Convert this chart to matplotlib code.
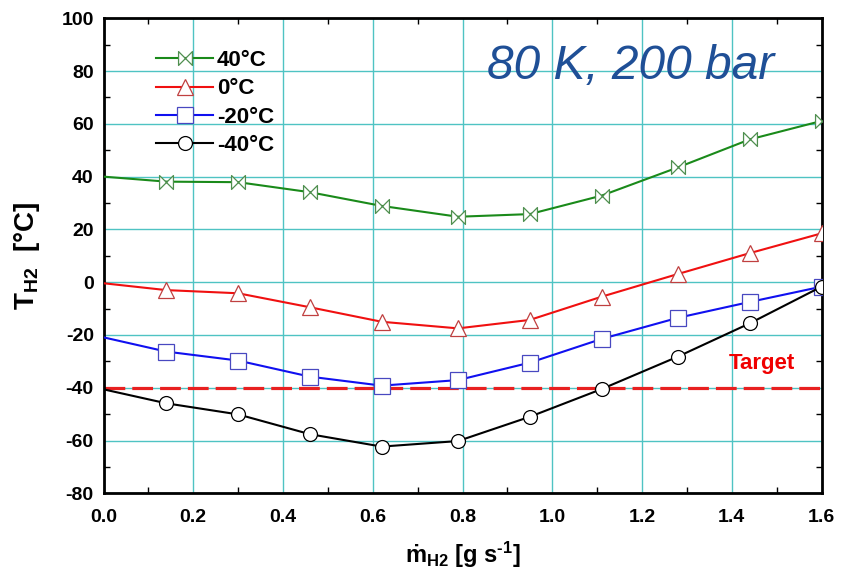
import matplotlib
matplotlib.use("Agg")
import matplotlib.pyplot as plt
from matplotlib.path import Path
from matplotlib.ticker import MultipleLocator

plt.rcParams['font.family'] = ['Liberation Sans', 'DejaVu Sans']
plt.rcParams['mathtext.fontset'] = 'custom'
plt.rcParams['mathtext.rm'] = 'Liberation Sans:bold'
plt.rcParams['mathtext.bf'] = 'Liberation Sans:bold'
plt.rcParams['mathtext.it'] = 'Liberation Sans:bold'
plt.rcParams['mathtext.default'] = 'bf'

# ---- data ----
flow = [0.0, 0.14, 0.30, 0.46, 0.62, 0.79, 0.95, 1.11, 1.28, 1.44, 1.60]
t_p40 = [40.0, 38.1, 37.9, 34.1, 28.9, 24.8, 25.8, 32.8, 43.5, 54.1, 61.1]
t_0 = [-0.4, -3.0, -4.2, -9.5, -15.0, -17.5, -14.3, -5.5, 3.1, 11.0, 18.5]
t_m20 = [-20.9, -26.3, -29.7, -35.8, -39.2, -37.1, -30.5, -21.5, -13.5, -7.5, -1.7]
t_m40 = [-40.6, -45.9, -50.1, -57.6, -62.3, -60.2, -51.0, -40.5, -28.2, -15.6, -1.7]
labels = ['40°C', '0°C', '-20°C', '-40°C']
target = -40
x_ticks = [0.0, 0.2, 0.4, 0.6, 0.8, 1.0, 1.2, 1.4, 1.6]
y_ticks = [-80, -60, -40, -20, 0, 20, 40, 60, 80, 100]

# bowtie marker
bowtie = Path([(-1, -1), (1, 1), (1, -1), (-1, 1), (-1, -1)],
              [Path.MOVETO, Path.LINETO, Path.LINETO, Path.LINETO, Path.CLOSEPOLY])

fig = plt.figure(figsize=(8.52, 5.75), dpi=100)
ax = fig.add_axes([103.5 / 852, 1 - 493.3 / 575, (821.5 - 103.5) / 852, (493.3 - 18.3) / 575])

ax.grid(True, which='major', color='#4FC3C3', linewidth=1.0)
ax.set_axisbelow(True)

series = [
    (t_p40, '#1A8A1A', bowtie, '#4F8F4F', 10),
    (t_0, '#F01010', '^', '#C04040', 11),
    (t_m20, '#1010F0', 's', '#4848C0', 11),
    (t_m40, '#000000', 'o', '#000000', 10),
]
for (vals, col, mk, mec, ms), lab in zip(series, labels):
    ax.plot(flow, vals, color=col, lw=1.5, marker=mk, markersize=ms,
            markerfacecolor='white', markeredgecolor=mec, markeredgewidth=0.9,
            markevery=list(range(1, len(flow))), label=lab, zorder=3)

ax.axhline(target, color='#E82020', lw=2.3, dashes=(6.5, 2.2), zorder=2)
ax.text(1.467, -30.8, 'Target', color='#F00000', fontsize=16, fontweight='bold',
        ha='center', va='center')
ax.text(1.175, 81.7, '80 K, 200 bar', color='#1F4F96', fontsize=34.5, fontstyle='italic',
        ha='center', va='center', family=['Liberation Sans', 'DejaVu Sans'])

ax.set_xlim(0, 1.6)
ax.set_ylim(-80, 100)
ax.set_xticks(x_ticks)
ax.set_yticks(y_ticks)
ax.set_xticklabels([f'{v:.1f}' for v in x_ticks])
ax.set_yticklabels([str(v) for v in y_ticks])
ax.xaxis.set_minor_locator(MultipleLocator(0.1))
ax.yaxis.set_minor_locator(MultipleLocator(10))
ax.tick_params(which='both', direction='in', top=True, right=True)
ax.tick_params(which='major', length=0, labelsize=14)
ax.tick_params(which='minor', length=4, width=1)
ax.tick_params(axis='x', which='major', pad=11)
ax.tick_params(axis='y', which='major', pad=7)
for lbl in ax.get_xticklabels() + ax.get_yticklabels():
    lbl.set_fontweight('bold')
for s in ax.spines.values():
    s.set_linewidth(2)

ax.set_ylabel('T$_{\\mathbf{H2}}$  [°C]', fontsize=20, fontweight='bold', labelpad=14)
ax.set_xlabel('ṁ$_{\\mathbf{H2}}$ [g s$^{\\text{-1}}$]', fontsize=17, fontweight='bold', labelpad=10)

leg = ax.legend(loc='upper left', bbox_to_anchor=(0.051, 0.966), frameon=False,
                prop={'weight': 'bold', 'size': 16}, handlelength=2.6, handletextpad=0.15,
                labelspacing=0.33, borderaxespad=0.3)

fig.savefig('out.png', dpi=100)
